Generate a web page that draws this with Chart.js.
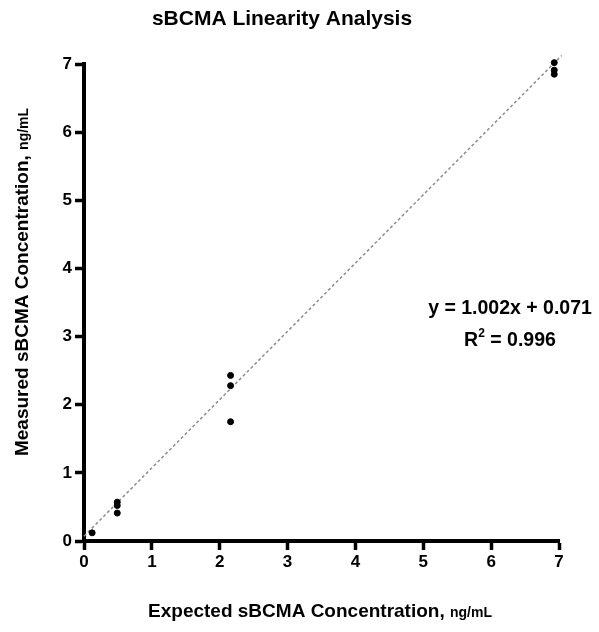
<!DOCTYPE html>
<html>
<head>
<meta charset="utf-8">
<script src="https://cdn.jsdelivr.net/npm/chart.js@4.4.0/dist/chart.umd.min.js"></script>
<style>
  html, body { margin: 0; padding: 0; background: #fff; }
  #wrap { width: 599px; height: 632px; }
</style>
</head>
<body>
<div id="wrap"><canvas id="chart" width="599" height="632"></canvas></div>
<script>
// measured points
const expected = [0.12, 0.49, 0.49, 0.49, 2.16, 2.16, 2.16, 6.93, 6.93, 6.93];
const measured = [0.12, 0.57, 0.52, 0.41, 2.43, 2.28, 1.75, 7.02, 6.91, 6.85];
// fit line end points (y = 1.002x + 0.071)
const fitX = [0, 7.04];
const fitY = [0.071, 7.125];
const tickValues = [0, 1, 2, 3, 4, 5, 6, 7];

const FONT = "'Liberation Sans', Arial, sans-serif";

const points = expected.map((x, i) => ({x: x, y: measured[i]}));
const fitLine = fitX.map((x, i) => ({x: x, y: fitY[i]}));

// draws the titles (mixed font sizes) and the equation
const textPlugin = {
  id: 'texts',
  afterDraw(chart) {
    const ctx = chart.ctx;
    ctx.save();
    ctx.fillStyle = '#000';
    ctx.textBaseline = 'middle';

    // title
    ctx.font = 'bold 21px ' + FONT;
    ctx.textAlign = 'center';
    ctx.fillText('sBCMA Linearity Analysis', 282, 19);

    const mixed = (big, small, cx, cy) => {
      ctx.font = 'bold 19px ' + FONT;
      const w1 = ctx.measureText(big).width;
      ctx.font = 'bold 14px ' + FONT;
      const w2 = ctx.measureText(small).width;
      let x0 = cx - (w1 + w2) / 2;
      ctx.textAlign = 'left';
      ctx.font = 'bold 19px ' + FONT;
      ctx.fillText(big, x0, cy);
      ctx.font = 'bold 14px ' + FONT;
      ctx.fillText(small, x0 + w1, cy + 1);
    };

    mixed('Expected sBCMA Concentration, ', 'ng/mL', 320, 612);

    ctx.save();
    ctx.translate(23, 282);
    ctx.rotate(-Math.PI / 2);
    mixed('Measured sBCMA Concentration, ', 'ng/mL', 0, 0);
    ctx.restore();

    // equation
    ctx.textAlign = 'center';
    ctx.font = 'bold 19.5px ' + FONT;
    ctx.fillText('y = 1.002x + 0.071', 510, 309);
    const s1 = 'R', s2 = ' = 0.996';
    const wR = ctx.measureText(s1).width;
    const wRest = ctx.measureText(s2).width;
    ctx.font = 'bold 12px ' + FONT;
    const wSup = ctx.measureText('2').width;
    let x0 = 510 - (wR + wSup + wRest) / 2;
    ctx.textAlign = 'left';
    ctx.font = 'bold 19.5px ' + FONT;
    ctx.fillText(s1, x0, 341);
    ctx.font = 'bold 12px ' + FONT;
    ctx.fillText('2', x0 + wR, 334);
    ctx.font = 'bold 19.5px ' + FONT;
    ctx.fillText(s2, x0 + wR + wSup, 341);
    ctx.restore();
  }
};

const axisCommon = {
  type: 'linear',
  min: 0,
  max: 7,
  afterBuildTicks: (scale) => { scale.ticks = tickValues.map(v => ({value: v})); },
  border: { display: true, color: '#000', width: 4 },
  grid: {
    drawOnChartArea: false,
    drawTicks: true,
    tickLength: 9,
    tickWidth: 3.5,
    tickColor: '#000'
  },
  ticks: {
    color: '#000',
    font: { family: FONT, size: 17, weight: 'bold' }
  }
};

new Chart(document.getElementById('chart'), {
  type: 'scatter',
  data: {
    datasets: [
      {
        label: 'fit',
        data: fitLine,
        showLine: true,
        borderColor: '#8c8c8c',
        borderWidth: 1.5,
        borderDash: [3, 2.5],
        pointRadius: 0,
        clip: false,
        order: 2
      },
      {
        label: 'data',
        data: points,
        backgroundColor: '#000',
        borderColor: '#000',
        pointRadius: 3,
        clip: false,
        order: 1
      }
    ]
  },
  options: {
    responsive: false,
    animation: false,
    layout: { padding: { left: 0, right: 40, top: 64, bottom: 0 } },
    plugins: {
      legend: { display: false },
      tooltip: { enabled: false },
      title: { display: false }
    },
    scales: {
      x: Object.assign({}, axisCommon, {
        position: 'bottom',
        afterFit: (scale) => { scale.height = 91; },
        ticks: Object.assign({}, axisCommon.ticks, { padding: 2 })
      }),
      y: Object.assign({}, axisCommon, {
        position: 'left',
        afterFit: (scale) => { scale.width = 84; },
        ticks: Object.assign({}, axisCommon.ticks, { padding: 3 })
      })
    }
  },
  plugins: [textPlugin]
});
</script>
</body>
</html>
